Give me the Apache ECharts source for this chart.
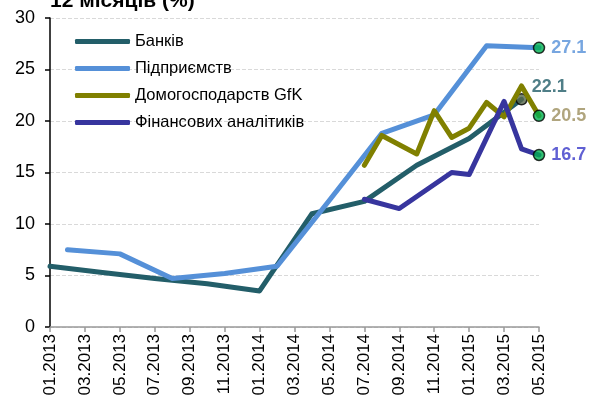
<!DOCTYPE html>
<html>
<head>
<meta charset="utf-8">
<script src="https://cdn.jsdelivr.net/npm/echarts@6/dist/echarts.min.js"></script>
<style>
  html, body { margin: 0; padding: 0; background: #fff; }
  #chart { width: 592px; height: 410px; }
</style>
</head>
<body>
<div id="chart"></div>
<script>
// monthly categories, 01.2013 .. 05.2015
const months = [
  "01.2013", "02.2013", "03.2013", "04.2013", "05.2013", "06.2013",
  "07.2013", "08.2013", "09.2013", "10.2013", "11.2013", "12.2013",
  "01.2014", "02.2014", "03.2014", "04.2014", "05.2014", "06.2014",
  "07.2014", "08.2014", "09.2014", "10.2014", "11.2014", "12.2014",
  "01.2015", "02.2015", "03.2015", "04.2015", "05.2015",
];

const seriesNames = ["Банків", "Підприємств", "Домогосподарств GfK", "Фінансових аналітиків"];

// quarterly / irregular surveys, gaps are null
const banks = [5.9, null, null, 5.3, null, null, 4.7, null, null, 4.2, null, null,
  3.5, null, null, 11.0, null, null, 12.2, null, null, 15.7, null, null,
  18.3, null, null, 22.1, null];
const enterprises = [null, 7.5, null, null, 7.1, null, null, 4.7, null, null, 5.2, null,
  null, 5.9, null, null, 12.3, null, null, 18.8, null, null, 20.6, null,
  null, 27.3, null, null, 27.1];
const households = [null, null, null, null, null, null, null, null, null, null, null, null,
  null, null, null, null, null, null, 15.7, 18.6, null, 16.8, 21.0, 18.4,
  19.3, 21.8, 20.4, 23.4, 20.5];
const analysts = [null, null, null, null, null, null, null, null, null, null, null, null,
  null, null, null, null, null, null, 12.4, null, 11.5, null, null, 15.0,
  14.8, null, 21.9, 17.3, 16.7];

const lineColors = ["#235e69", "#5590d8", "#808000", "#37359e"];
const labelColors = ["#235e69", "#5590d8", "#9c8f5e", "#3838c8"];
const allData = [banks, enterprises, households, analysts];

// last known value of each series gets a marker + label
function lastPoint(arr) {
  let idx = -1;
  arr.forEach((v, i) => { if (v != null) idx = i; });
  return arr.map((v, i) => (i === idx ? v : null));
}

const lineSeries = allData.map((d, i) => ({
  name: seriesNames[i],
  type: "line",
  data: d,
  connectNulls: true,
  showSymbol: false,
  symbol: "none",
  z: 2 + i,
  lineStyle: { color: lineColors[i], width: 5, cap: "round", join: "round" },
  itemStyle: { color: lineColors[i] },
}));

const endSeries = allData.map((d, i) => ({
  type: "scatter",
  data: lastPoint(d),
  symbol: "circle",
  symbolSize: 11,
  z: i === 0 ? 3 : 10,
  itemStyle: {
    color: i === 0 ? "#56664a" : "#00b050",
    borderColor: "#000",
    borderWidth: 1.5,
  },
  label: {
    show: true,
    position: "right",
    distance: 6,
    offset: i === 0 ? [-2, -12] : [0, 0],
    formatter: (p) => p.value.toFixed(1),
    color: labelColors[i],
    fontFamily: "Liberation Sans",
    fontWeight: "bold",
    fontSize: 18,
  },
}));

const chart = echarts.init(document.getElementById("chart"));

chart.setOption({
  animation: false,
  textStyle: { fontFamily: "Liberation Sans" },
  grid: { left: 50, right: 53, top: 18, bottom: 83 },
  graphic: [
    {
      type: "text",
      left: 50,
      top: -9,
      style: {
        text: "12 місяців (%)",
        font: "bold 21px 'Liberation Sans'",
        fill: "#000",
      },
    },
  ],
  legend: {
    data: seriesNames,
    orient: "vertical",
    left: 70,
    top: 27,
    icon: "roundRect",
    itemWidth: 55,
    itemHeight: 5,
    itemGap: 8,
    textStyle: { fontSize: 16.5, color: "#000", lineHeight: 19, fontFamily: "Liberation Sans" },
  },
  xAxis: {
    type: "category",
    data: months,
    boundaryGap: false,
    axisLine: { lineStyle: { color: "#999", width: 1.5 } },
    axisTick: { interval: 1, length: 5, lineStyle: { color: "#999", width: 1.5 } },
    axisLabel: {
      interval: 1,
      rotate: 90,
      fontSize: 17,
      color: "#000",
      margin: 7,
    },
    splitLine: { show: false },
  },
  yAxis: {
    type: "value",
    min: 0,
    max: 30,
    interval: 5,
    axisLine: { show: true, lineStyle: { color: "#000", width: 1.5 } },
    axisTick: { show: true, length: 5, lineStyle: { color: "#000", width: 1.5 } },
    axisLabel: { fontSize: 18, color: "#000", margin: 15 },
    splitLine: { lineStyle: { color: "#d9d9d9", type: "dashed", width: 1 } },
  },
  series: lineSeries.concat(endSeries),
});
</script>
</body>
</html>
